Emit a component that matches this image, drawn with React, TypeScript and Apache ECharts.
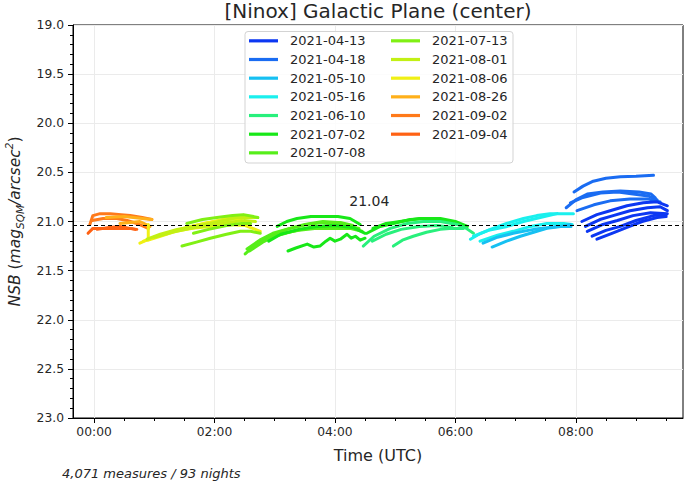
import React, { useEffect, useRef } from "react";
import * as echarts from "echarts";

type Pt = [number, number];

const TITLE = "[Ninox] Galactic Plane (center)";
const FOOTER = "4,071 measures / 93 nights";
const REF_VALUE = 21.04;
const REF_LABEL_AT: Pt = [4.57, 20.79];

const LEGEND_COL1 = ["2021-04-13", "2021-04-18", "2021-05-10", "2021-05-16", "2021-06-10", "2021-07-02", "2021-07-08"];
const LEGEND_COL2 = ["2021-07-13", "2021-08-01", "2021-08-06", "2021-08-26", "2021-09-02", "2021-09-04"];

const COLORS: Record<string, string> = {
  "2021-04-13": "#0c37f2",
  "2021-04-18": "#1a6cf2",
  "2021-05-10": "#16c0f2",
  "2021-05-16": "#1af0ee",
  "2021-06-10": "#28f07c",
  "2021-07-02": "#18e818",
  "2021-07-08": "#56ee1a",
  "2021-07-13": "#80f014",
  "2021-08-01": "#c2f014",
  "2021-08-06": "#f0f014",
  "2021-08-26": "#ffb01a",
  "2021-09-02": "#ff7a1a",
  "2021-09-04": "#ff6214",
};

// hours UTC
const X_MIN = -0.35;
const X_MAX = 9.78;
const X_MAJOR = [0, 2, 4, 6, 8];
const X_MINOR = [0.5, 1, 1.5, 2.5, 3, 3.5, 4.5, 5, 5.5, 6.5, 7, 7.5, 8.5, 9, 9.5];

// nights (hours UTC, NSB) grouped by legend date
const n0413: Pt[][] = [
  [[8.10, 21.00], [8.35, 20.93], [8.57, 20.89], [8.85, 20.84], [9.12, 20.81], [9.35, 20.80], [9.52, 20.84]],
  [[8.16, 21.05], [8.40, 20.98], [8.62, 20.94], [8.90, 20.89], [9.19, 20.86], [9.40, 20.85], [9.52, 20.89]],
  [[8.19, 21.10], [8.45, 21.03], [8.69, 20.99], [8.95, 20.94], [9.24, 20.91], [9.52, 20.92]],
  [[8.27, 21.15], [8.50, 21.09], [8.74, 21.05], [9.00, 20.99], [9.29, 20.94], [9.50, 20.93]],
  [[8.35, 21.18], [8.60, 21.12], [8.85, 21.06], [9.10, 21.00], [9.35, 20.96], [9.50, 20.95]],
];
const n0418: Pt[][] = [
  [[7.97, 20.70], [8.12, 20.64], [8.29, 20.59], [8.50, 20.56], [8.74, 20.545], [9.00, 20.54], [9.29, 20.53]],
  [[7.84, 20.86], [8.00, 20.78], [8.19, 20.72], [8.45, 20.70], [8.74, 20.69], [9.05, 20.70], [9.25, 20.72], [9.32, 20.76]],
  [[7.91, 20.81], [8.10, 20.76], [8.41, 20.71], [8.70, 20.70], [8.95, 20.72], [9.20, 20.74], [9.35, 20.78]],
  [[8.02, 20.89], [8.30, 20.83], [8.57, 20.79], [8.90, 20.77], [9.19, 20.77], [9.40, 20.80]],
];
const n0510: Pt[][] = [
  [[6.61, 21.26], [6.85, 21.20], [7.08, 21.15], [7.30, 21.11], [7.52, 21.07], [7.75, 21.05], [7.91, 21.03]],
  [[6.46, 21.22], [6.70, 21.16], [6.96, 21.12], [7.30, 21.08], [7.69, 21.05], [7.92, 21.05]],
];
const n0516: Pt[][] = [
  [[6.25, 21.18], [6.42, 21.12], [6.58, 21.08], [6.85, 21.02], [7.13, 20.97], [7.35, 20.94], [7.57, 20.92], [7.96, 20.92]],
  [[6.30, 21.15], [6.55, 21.09], [6.86, 21.05], [7.13, 21.00], [7.41, 20.96], [7.69, 20.92]],
  [[6.41, 21.20], [6.70, 21.14], [6.96, 21.10], [7.25, 21.05], [7.52, 21.02], [7.80, 21.02], [7.94, 21.03]],
];
const n0610: Pt[][] = [
  [[4.97, 21.25], [5.12, 21.19], [5.30, 21.15], [5.52, 21.11], [5.75, 21.08], [5.95, 21.07], [6.13, 21.07]],
  [[4.47, 21.25], [4.65, 21.15], [4.92, 21.07], [5.20, 21.02], [5.47, 21.00], [5.75, 21.00], [6.03, 21.03], [6.18, 21.07], [6.30, 21.12]],
  [[4.62, 21.20], [4.85, 21.13], [5.10, 21.08], [5.40, 21.05], [5.70, 21.04], [5.95, 21.06]],
];
const n0702: Pt[][] = [
  [[4.53, 21.12], [4.75, 21.05], [4.97, 21.02], [5.25, 20.98], [5.53, 20.97], [5.80, 20.99], [5.96, 21.02]],
  [[4.63, 21.07], [4.85, 21.02], [5.08, 21.00], [5.40, 20.97], [5.75, 20.97], [6.00, 21.00], [6.20, 21.05]],
  [[3.04, 21.05], [3.20, 21.00], [3.37, 20.97], [3.60, 20.95], [3.80, 20.95], [4.05, 20.95], [4.25, 20.97], [4.42, 21.03]],
  [[3.22, 21.30], [3.35, 21.27], [3.54, 21.23], [3.65, 21.26], [3.75, 21.25], [3.85, 21.20], [3.92, 21.17], [4.00, 21.20],
   [4.09, 21.18], [4.20, 21.13], [4.27, 21.17], [4.34, 21.15], [4.42, 21.19], [4.50, 21.17]],
  [[2.90, 21.20], [3.10, 21.13], [3.40, 21.08], [3.70, 21.05], [4.00, 21.04], [4.30, 21.06], [4.50, 21.12]],
];
const n0708: Pt[][] = [
  [[2.51, 21.33], [2.65, 21.25], [2.87, 21.17], [3.05, 21.11], [3.26, 21.07], [3.50, 21.03], [3.80, 21.00], [4.05, 21.01], [4.30, 21.05]],
  [[2.54, 21.28], [2.75, 21.19], [2.97, 21.12], [3.25, 21.07], [3.54, 21.03], [3.80, 21.01], [4.09, 21.01], [4.30, 21.04]],
  [[2.64, 21.25], [2.90, 21.17], [3.14, 21.12], [3.40, 21.09], [3.70, 21.07], [4.00, 21.07], [4.25, 21.07], [4.45, 21.10]],
  [[2.58, 21.30], [2.80, 21.21], [3.00, 21.15], [3.30, 21.10], [3.60, 21.06], [3.90, 21.04], [4.20, 21.04], [4.40, 21.07]],
];
const n0713: Pt[][] = [
  [[1.46, 21.25], [1.70, 21.21], [1.93, 21.17], [2.20, 21.13], [2.43, 21.10], [2.60, 21.10], [2.76, 21.12]],
  [[1.54, 21.02], [1.80, 20.98], [2.04, 20.96], [2.30, 20.94], [2.48, 20.93], [2.65, 20.95], [2.72, 20.96]],
  [[1.65, 21.12], [1.90, 21.08], [2.20, 21.04], [2.45, 21.02], [2.60, 21.02]],
];
const n0801: Pt[][] = [
  [[0.88, 21.18], [1.10, 21.13], [1.38, 21.08], [1.65, 21.05], [1.93, 21.02], [2.15, 20.99], [2.38, 20.96], [2.71, 20.96]],
  [[1.00, 21.16], [1.30, 21.11], [1.60, 21.07], [1.90, 21.04], [2.20, 21.01], [2.50, 20.99], [2.68, 21.00]],
];
const n0806: Pt[][] = [
  [[0.76, 21.22], [0.95, 21.17], [1.21, 21.12], [1.50, 21.07], [1.76, 21.03], [2.00, 21.00], [2.21, 20.97], [2.54, 20.94]],
  [[0.90, 21.03], [0.90, 21.19], [1.10, 21.15], [1.35, 21.10], [1.64, 21.07], [1.93, 21.05], [2.21, 21.03], [2.50, 21.04], [2.76, 21.10]],
  [[0.82, 21.20], [1.05, 21.15], [1.30, 21.10], [1.60, 21.05], [1.90, 21.01], [2.20, 20.98], [2.45, 20.97]],
];
const n0826: Pt[][] = [
  [[0.43, 21.02], [0.60, 21.01], [0.76, 21.00], [0.93, 21.05]],
  [[0.20, 20.96], [0.50, 20.95], [0.80, 20.97], [0.96, 20.98]],
];
const n0902: Pt[][] = [
  [[-0.07, 21.03], [-0.02, 20.94], [0.10, 20.92], [0.27, 20.92], [0.45, 20.93], [0.60, 20.94], [0.80, 20.96], [0.96, 20.98]],
  [[-0.03, 20.99], [0.15, 20.97], [0.38, 20.97], [0.55, 20.99], [0.71, 21.02], [0.90, 21.07]],
];
const n0904: Pt[][] = [
  [[-0.10, 21.12], [-0.02, 21.07], [0.20, 21.07], [0.43, 21.07], [0.60, 21.07], [0.71, 21.08]],
  [[0.05, 21.08], [0.25, 21.06], [0.43, 21.05], [0.68, 21.08]],
];

const GROUPS: [string, Pt[][]][] = [
  ["2021-09-04", n0904],
  ["2021-09-02", n0902],
  ["2021-08-26", n0826],
  ["2021-08-06", n0806],
  ["2021-08-01", n0801],
  ["2021-07-13", n0713],
  ["2021-07-08", n0708],
  ["2021-07-02", n0702],
  ["2021-06-10", n0610],
  ["2021-05-16", n0516],
  ["2021-05-10", n0510],
  ["2021-04-18", n0418],
  ["2021-04-13", n0413],
];

const FONT = "DejaVu Sans";
const TXT = "#262626";
// the time axis is laid out in "hours since the previous midnight" (+24) so that
// it does not contain zero (keeps the y axis on the left frame edge)
const SHIFT = 24;
const sx = (h: number) => h + SHIFT;

function buildOption(): any {
  const series: any[] = [];
  GROUPS.forEach(([name, curves]) => {
    curves.forEach((curve) => {
      series.push({
        type: "line",
        name,
        data: curve.map(([h, v]) => [sx(h), v]),
        showSymbol: false,
        symbol: "none",
        smooth: false,
        lineStyle: { width: 3, color: COLORS[name], cap: "round", join: "round" },
        itemStyle: { color: COLORS[name] },
        z: 3,
      });
    });
  });
  series.push({
    type: "line",
    name: "ref",
    data: [],
    markLine: {
      silent: true,
      symbol: "none",
      label: { show: false },
      lineStyle: { color: "#000", type: [4, 3], width: 1.1 },
      data: [{ yAxis: REF_VALUE }],
    },
    markPoint: {
      silent: true,
      symbol: "rect",
      symbolSize: 0,
      label: {
        show: true,
        position: "inside",
        formatter: REF_VALUE.toFixed(2),
        color: TXT,
        fontFamily: FONT,
        fontSize: 14,
      },
      data: [{ coord: [sx(REF_LABEL_AT[0]), REF_LABEL_AT[1]] }],
    },
    z: 4,
  });

  const legendBase = {
    orient: "vertical",
    top: 31.5,
    padding: 0,
    itemGap: 0,
    itemWidth: 29,
    itemHeight: 3.2,
    icon: "rect",
    selectedMode: false,
    z: 10,
    textStyle: {
      fontFamily: FONT,
      fontSize: 13,
      color: TXT,
      lineHeight: 18.67,
      padding: [0, 0, 0, 7],
    },
  };

  const fmtTime = (v: number) => `${String(Math.round(v - SHIFT)).padStart(2, "0")}:00`;

  return {
    animation: false,
    backgroundColor: "#fff",
    title: {
      text: TITLE,
      left: 378,
      textAlign: "center",
      top: 0,
      padding: [1, 0, 0, 0],
      textStyle: { fontFamily: FONT, fontSize: 20, fontWeight: "normal", color: TXT },
    },
    legend: [
      { ...legendBase, left: 249, data: LEGEND_COL1 },
      { ...legendBase, left: 391, data: LEGEND_COL2 },
    ],
    grid: {
      left: 73,
      right: 2,
      top: 25,
      bottom: 65,
      show: true,
      borderColor: "#000",
      borderWidth: 1,
      backgroundColor: "transparent",
      containLabel: false,
      outerBoundsMode: "none",
    },
    xAxis: [
      {
        type: "value",
        min: sx(X_MIN),
        max: sx(X_MAX),
        name: "Time (UTC)",
        nameLocation: "middle",
        nameGap: 29,
        nameTextStyle: { fontFamily: FONT, fontSize: 16, color: TXT },
        axisLine: { show: true, onZero: false, lineStyle: { color: "#000", width: 1 } },
        axisTick: { show: true, length: 5, lineStyle: { color: "#000" }, customValues: X_MAJOR.map(sx) },
        axisLabel: {
          customValues: X_MAJOR.map(sx),
          formatter: fmtTime,
          fontFamily: FONT,
          fontSize: 12.3,
          color: TXT,
          margin: 8,
        },
        splitLine: { show: true, lineStyle: { color: "#ebebeb", width: 1 } },
      },
      {
        type: "value",
        min: sx(X_MIN),
        max: sx(X_MAX),
        position: "bottom",
        offset: 0,
        axisLine: { show: false, onZero: false },
        axisTick: { show: true, length: 3, lineStyle: { color: "#000" }, customValues: X_MINOR.map(sx) },
        axisLabel: { show: false },
        splitLine: { show: false },
      },
    ],
    yAxis: {
      type: "value",
      inverse: true,
      min: 19,
      max: 23,
      interval: 0.5,
      position: "left",
      name: "{i|NSB}{n| (}{i|mag}{s|SQM}{i|/arcsec}{p|2}{n|)}",
      nameLocation: "middle",
      nameRotate: 90,
      nameGap: 47,
      nameTextStyle: {
        fontFamily: FONT,
        color: TXT,
        rich: {
          i: { fontFamily: FONT, fontSize: 15.5, fontStyle: "italic", color: TXT, lineHeight: 22 },
          n: { fontFamily: FONT, fontSize: 15.5, color: TXT, lineHeight: 22 },
          s: { fontFamily: FONT, fontSize: 10.5, fontStyle: "italic", color: TXT, lineHeight: 11, verticalAlign: "bottom" },
          p: { fontFamily: FONT, fontSize: 10.5, fontStyle: "italic", color: TXT, lineHeight: 11, verticalAlign: "top" },
        },
      },
      axisLine: { show: true, onZero: false, lineStyle: { color: "#000", width: 1 } },
      axisTick: { show: true, length: 5, lineStyle: { color: "#000" } },
      minorTick: { show: true, splitNumber: 5, length: 3, lineStyle: { color: "#000" } },
      axisLabel: {
        formatter: (v: number) => v.toFixed(1),
        fontFamily: FONT,
        fontSize: 12.3,
        color: TXT,
        margin: 9,
      },
      splitLine: { show: true, lineStyle: { color: "#ebebeb", width: 1 } },
      minorSplitLine: { show: false },
    },
    graphic: [
      {
        type: "rect",
        z: 5,
        shape: { x: 245, y: 31.5, width: 268, height: 131.5, r: 3 },
        style: { fill: "rgba(255,255,255,0.85)", stroke: "#d3d3d3", lineWidth: 1 },
      },
      {
        type: "text",
        left: 62,
        top: 467,
        style: { text: FOOTER, fontFamily: FONT, fontSize: 13, fontStyle: "italic", fill: TXT },
      },
    ],
    series,
  };
}

export default function App() {
  const ref = useRef<HTMLDivElement>(null);
  useEffect(() => {
    if (!ref.current) return;
    const chart = echarts.init(ref.current, null, { renderer: "svg" });
    chart.setOption(buildOption());
    return () => chart.dispose();
  }, []);
  return <div ref={ref} style={{ width: 685, height: 483, position: "absolute", left: 0, top: 0 }} />;
}
